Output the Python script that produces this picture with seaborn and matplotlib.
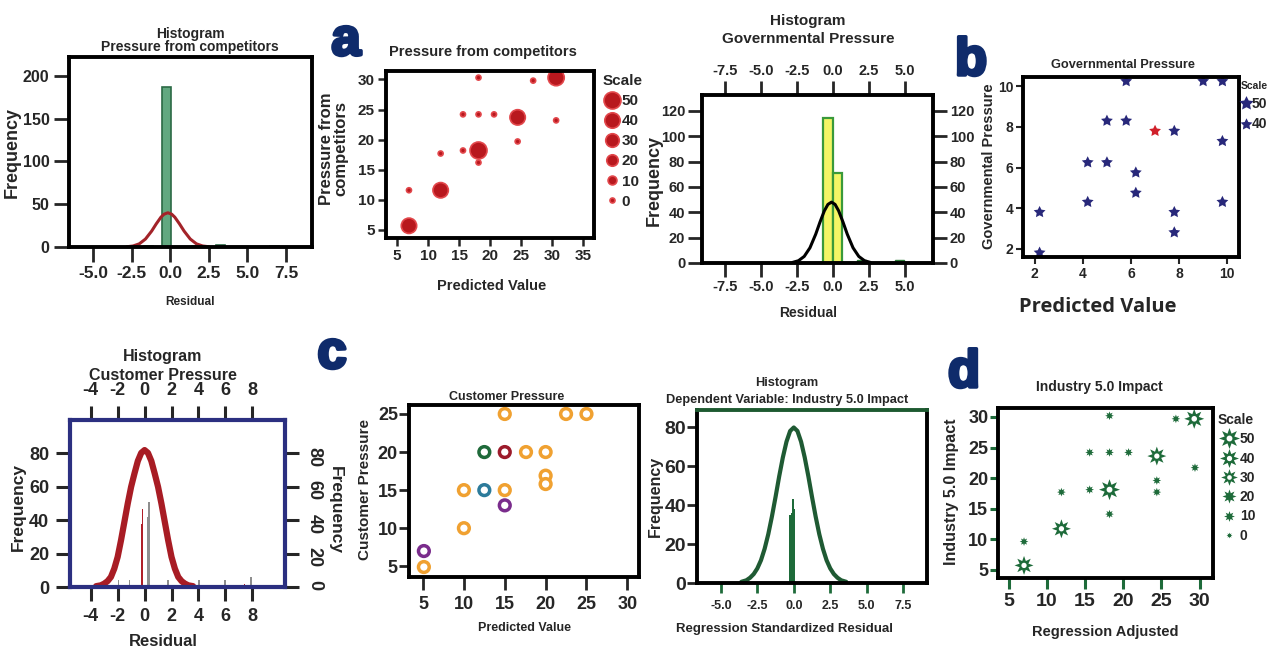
import numpy as np
import matplotlib
matplotlib.use("Agg")
import matplotlib.pyplot as plt
import matplotlib.patheffects as pe
import seaborn as sns
from matplotlib.lines import Line2D
from matplotlib.path import Path

# ---------------------------------------------------------------- data
# a) Histogram - Pressure from competitors (bar centres / counts, normal curve)
comp_bins = [-1.4, -0.24, 1.7, 3.25, 6.75]
comp_counts = [1, 187, 1, 2, 1]
comp_curve_x = [-2.8, -2.4, -2.0, -1.6, -1.2, -0.9, -0.6, -0.4, -0.15, 0.1, 0.3, 0.6, 0.9, 1.3, 1.7, 2.1, 2.5]
comp_curve_y = [0.3, 1.2, 3.7, 9.3, 18.6, 27.1, 34.8, 38.3, 40, 38.3, 34.8, 27.1, 18.6, 9.3, 3.7, 1.2, 0.3]

# a) Pressure from competitors vs predicted value
comp_x = [6.9, 6.9, 12.0, 12.0, 15.6, 18.1, 18.1, 15.6, 18.1, 20.6, 24.4, 24.4, 18.1, 26.9, 30.6, 30.6]
comp_y = [5.7, 11.6, 11.6, 17.7, 18.2, 18.2, 16.2, 24.2, 24.2, 24.2, 23.7, 19.7, 30.3, 29.8, 30.3, 23.2]
comp_scale = [40, 0, 40, 0, 0, 50, 0, 0, 0, 0, 40, 0, 0, 0, 45, 0]

# b) Histogram - Governmental Pressure
gov_bins_main = [-0.345, 0.305]
gov_counts_main = [114, 71]
gov_bins_small = [-1.0, 0.955, 2.0, 4.65]
gov_counts_small = [1, 1, 2, 2]
gov_curve_x = [-2.8, -2.4, -2.0, -1.6, -1.2, -0.9, -0.6, -0.35, -0.1, 0.15, 0.4, 0.7, 1.0, 1.4, 1.8, 2.2, 2.6]
gov_curve_y = [0.5, 1.8, 5.2, 12, 22.7, 32.3, 41.1, 46.2, 48, 46.2, 41.1, 32.3, 22.7, 12, 5.2, 1.8, 0.5]

# b) Governmental Pressure vs predicted value
gov_x = [2.2, 2.2, 4.2, 4.2, 5.0, 5.0, 5.8, 5.8, 6.2, 6.2, 7.0, 7.8, 7.8, 7.8, 9.0, 9.8, 9.8, 9.8]
gov_y = [3.8, 1.8, 4.3, 6.25, 6.25, 8.3, 8.3, 10.25, 5.75, 4.75, 7.8, 7.8, 3.8, 2.8, 10.25, 10.25, 7.3, 4.3]
gov_group = ["base"] * 10 + ["highlight"] + ["base"] * 7
gov_scale = [40] * 18
gov_legend_levels = [50, 40]

# c) Histogram - Customer Pressure
cust_gray_bins = [-1.95, -1.13, 0.22, 0.35, 1.76, 4.06, 5.97, 7.9]
cust_gray_counts = [4, 4, 42, 51, 4, 4, 4, 6]
cust_red_bins = [-0.26, -0.17, 7.4]
cust_red_counts = [38, 47, 2]
cust_curve_x = [-3.6, -3.25, -3.0, -2.75, -2.5, -2.25, -2.0, -1.75, -1.5, -1.25, -1.0, -0.75, -0.5, -0.25, 0,
                0.25, 0.5, 0.75, 1.0, 1.25, 1.5, 1.75, 2.0, 2.25, 2.5, 2.75, 3.0, 3.25, 3.6]
cust_curve_y = [0.5, 1, 2, 3.5, 6, 11, 18, 28, 39, 50, 60, 68, 75.5, 80.3, 82,
                80.3, 75.5, 68, 60, 50, 39, 28, 18, 11, 6, 3.5, 2, 1, 0.5]

# c) Customer Pressure vs predicted value
cust_x = [5.1, 5.1, 10, 10, 12.5, 12.5, 15, 15, 15, 15, 17.6, 20, 20, 20, 22.5, 25]
cust_y = [7.0, 4.9, 15, 10, 15, 20, 20, 25, 15, 13, 20, 20, 16.9, 15.8, 25, 25]
cust_group = ["purple", "orange", "orange", "orange", "teal", "green", "red", "orange",
              "orange", "purple", "orange", "orange", "orange", "orange", "orange", "orange"]

# d) Histogram - Dependent Variable: Industry 5.0 Impact
ind_bins = [-0.25, -0.15, -0.05, 0.05]
ind_counts = [35, 36, 43, 38]
ind_curve_x = [-3.6, -3.25, -3.0, -2.75, -2.5, -2.25, -2.0, -1.75, -1.5, -1.25, -1.0, -0.75, -0.5, -0.25, 0,
               0.25, 0.5, 0.75, 1.0, 1.25, 1.5, 1.75, 2.0, 2.25, 2.5, 2.75, 3.0, 3.25, 3.6]
ind_curve_y = [0.6, 1.4, 2.7, 4.6, 7.5, 11.7, 17.6, 25.1, 34.2, 44.3, 54.9, 64.6, 72.7, 78.2, 80,
               78.2, 72.7, 64.6, 54.9, 44.3, 34.2, 25.1, 17.6, 11.7, 7.5, 4.6, 2.7, 1.4, 0.6]

# d) Industry 5.0 Impact vs regression adjusted
ind_x = [7.0, 7.0, 11.9, 11.9, 15.6, 18.2, 18.2, 15.6, 18.2, 20.7, 24.4, 24.4, 24.4, 18.2, 26.9, 29.3, 29.4]
ind_y = [5.7, 9.6, 11.7, 17.7, 18.1, 18.1, 14.1, 24.2, 24.2, 24.2, 23.6, 19.6, 17.7, 30.2, 29.7, 29.7, 21.7]
ind_scale = [40, 5, 40, 5, 5, 50, 5, 5, 5, 5, 40, 5, 5, 5, 5, 45, 5]

scale_levels = [50, 40, 30, 20, 10, 0]

# tick values
ticks_resid_a = [-5.0, -2.5, 0.0, 2.5, 5.0, 7.5]
ticks_resid_b = [-7.5, -5.0, -2.5, 0.0, 2.5, 5.0]
ticks_resid_c = [-4, -2, 0, 2, 4, 6, 8]
ticks_5_35 = [5, 10, 15, 20, 25, 30, 35]
ticks_5_30 = [5, 10, 15, 20, 25, 30]
ticks_5_25 = [5, 10, 15, 20, 25]
ticks_2_10 = [2, 4, 6, 8, 10]

# ---------------------------------------------------------------- style
W, H = 1282, 653
sns.set_style("ticks")
SANS = "Liberation Sans"
plt.rcParams["font.family"] = [SANS, "DejaVu Sans"]

RED = "#b8181e"
RED_EDGE = "#e2474b"
NAVY = "#28287a"
GREEN = "#1e6b3a"
LETTER = "#0f2b6b"
CUST_COLORS = {"orange": "#f0a131", "purple": "#7a2c8c", "teal": "#2c7b9b",
               "green": "#1f6a3a", "red": "#9c1b2b"}
COMP_SIZES = (13, 150)
IND_SIZES = (18, 228)
GOV_SIZES = {40: 80, 50: 115}

_ang = np.linspace(0, 2 * np.pi, 25)[::-1]
_star = Path.unit_regular_star(8, 0.5)
HOLLOW_STAR = Path(
    np.vstack([_star.vertices, np.column_stack([0.28 * np.cos(_ang), 0.28 * np.sin(_ang)])]),
    np.concatenate([_star.codes, [Path.MOVETO] + [Path.LINETO] * 23 + [Path.CLOSEPOLY]]))
SOLID_STAR = (8, 1, 0)


def _ax(fig, left, top, right, bottom):
    return fig.add_axes([left / W, 1 - bottom / H, (right - left) / W, (bottom - top) / H])


def _fxy(x, y):
    return x / W, 1 - y / H


def _text(fig, x, y, s, **kw):
    fig.text(*_fxy(x, y), s, **kw)


def _frame(ax, color="black", lw=2.8):
    for sp in ax.spines.values():
        sp.set_visible(True)
        sp.set_color(color)
        sp.set_linewidth(lw)


def _bar_edges(centers, width):
    """Bin edges for equal-width bars centred on `centers`; gaps become empty bins."""
    edges = []
    for c in sorted(centers):
        lo, hi = round(c - width / 2, 6), round(c + width / 2, 6)
        if edges and lo <= edges[-1] + 1e-6:
            edges.append(hi)
        else:
            edges.extend([lo, hi])
    return edges


def _set_ticks(ax, axis, values, size, fmt="{:g}", weight="bold"):
    labels = [fmt.format(v) for v in values]
    if axis == "x":
        ax.set_xticks(values)
        ax.set_xticklabels(labels, fontsize=size, fontweight=weight)
    else:
        ax.set_yticks(values)
        ax.set_yticklabels(labels, fontsize=size, fontweight=weight)


def _labels(ax, xlabel, xpos, xkw, ylabel, ypos, ykw):
    """xpos = (centre, top) and ypos = (right edge, centre) in figure pixels."""
    ax.set_xlabel(xlabel, **xkw)
    ax.set_ylabel(ylabel, **ykw)
    inv = ax.transAxes.inverted()
    ax.xaxis.set_label_coords(*inv.transform((xpos[0], H - xpos[1])))
    ax.yaxis.set_label_coords(*inv.transform((ypos[0], H - ypos[1])))


def _title(fig, cx, lines, size):
    for text, baseline in lines:
        _text(fig, cx, baseline, text, ha="center", va="baseline", fontsize=size, fontweight="bold")


def _area(v, sizes):
    return sizes[0] + v / 50 * (sizes[1] - sizes[0])


def _legend(ax, fig, handles, labels, anchor, size, title_size, hl, pad, spacing):
    ax.legend(handles, labels, title="Scale", loc="upper left",
              bbox_to_anchor=_fxy(*anchor), bbox_transform=fig.transFigure,
              frameon=False, borderpad=0, borderaxespad=0, handlelength=hl,
              handletextpad=pad, labelspacing=spacing, alignment="left",
              prop=dict(family=SANS, weight="bold", size=size),
              title_fontproperties=dict(family=SANS, weight="bold", size=title_size))


# ---------------------------------------------------------------- panels
def plot_comp_hist(fig):
    ax = _ax(fig, 69, 57, 312, 247)
    sns.histplot(x=comp_bins, weights=comp_counts, bins=_bar_edges(comp_bins, 0.58),
                 color="#62a880", edgecolor="#2b6a45", linewidth=1.2, alpha=1, ax=ax)
    sns.lineplot(x=comp_curve_x, y=comp_curve_y, color="#a32329", lw=2.2, ax=ax)
    ax.set_xlim(-6.55, 9.18)
    ax.set_ylim(0, 222)
    _frame(ax)
    ax.tick_params(length=11, width=2, pad=3)
    _set_ticks(ax, "x", ticks_resid_a, 12.5, "{:.1f}")
    _set_ticks(ax, "y", [0, 50, 100, 150, 200], 11.5)
    _labels(ax, "Residual", (190, 296), dict(fontsize=8.5, fontweight="bold"),
            "Frequency", (21, 152), dict(fontsize=13, fontweight="bold"))
    _title(fig, 190, [("Histogram", 38), ("Pressure from competitors", 51.5)], 10)


def plot_comp_scatter(fig):
    ax = _ax(fig, 386, 71, 594, 238)
    sns.scatterplot(x=comp_x, y=comp_y, size=comp_scale, sizes=COMP_SIZES, size_norm=(0, 50),
                    color=RED, edgecolor=RED_EDGE, linewidth=1.2, legend=False, ax=ax)
    ax.set_xlim(3.2, 36.7)
    ax.set_ylim(3.67, 31.4)
    _frame(ax)
    ax.tick_params(length=6, width=1.8, pad=2)
    _set_ticks(ax, "x", ticks_5_35, 11)
    _set_ticks(ax, "y", ticks_5_30, 11)
    _labels(ax, "Predicted Value", (492, 279), dict(fontsize=10.5, fontweight="bold"),
            "Pressure from\ncompetitors", (348, 149),
            dict(fontsize=12, fontweight="bold", linespacing=0.9))
    _title(fig, 483, [("Pressure from competitors", 56)], 10.5)
    handles = [Line2D([], [], ls="none", marker="o", ms=np.sqrt(_area(v, COMP_SIZES)),
                      mfc=RED, mec=RED_EDGE, mew=1.2) for v in scale_levels]
    _legend(ax, fig, handles, [str(v) for v in scale_levels], (603, 74), 11, 11, 1.18, 0.05, 0.4)


def plot_gov_hist(fig):
    ax = _ax(fig, 702, 95, 933, 263)
    sns.histplot(x=gov_bins_main, weights=gov_counts_main, bins=_bar_edges(gov_bins_main, 0.65),
                 color="#f4f565", edgecolor="#3a9a3a", linewidth=1.6, alpha=1, ax=ax)
    sns.histplot(x=gov_bins_small, weights=gov_counts_small, bins=_bar_edges(gov_bins_small, 0.65),
                 color="#3a9a4a", edgecolor="#2f7f3a", linewidth=1, alpha=1, ax=ax)
    sns.lineplot(x=gov_curve_x, y=gov_curve_y, color="black", lw=2.2, ax=ax)
    ax.set_xlim(-9.12, 6.97)
    ax.set_ylim(0, 132.5)
    _frame(ax)
    ax.tick_params(length=10, width=2, pad=2, top=True, labeltop=True, right=True, labelright=True)
    _set_ticks(ax, "x", ticks_resid_b, 10.5, "{:.1f}")
    _set_ticks(ax, "y", [0, 20, 40, 60, 80, 100, 120], 10.5)
    _labels(ax, "Residual", (808, 306), dict(fontsize=10, fontweight="bold"),
            "Frequency", (663, 180), dict(fontsize=13, fontweight="bold"))
    _title(fig, 808, [("Histogram", 25), ("Governmental Pressure", 43)], 11)


def plot_gov_scatter(fig):
    ax = _ax(fig, 1023, 77, 1239, 257)
    sns.scatterplot(x=gov_x, y=gov_y, hue=gov_group, palette={"base": NAVY, "highlight": "#d0202a"},
                    size=gov_scale, sizes=GOV_SIZES, marker=(5, 1, 0), linewidth=0,
                    legend=False, ax=ax)
    ax.set_xlim(1.51, 10.49)
    ax.set_ylim(1.59, 10.46)
    _frame(ax)
    ax.tick_params(length=5, width=1.5, pad=2)
    _set_ticks(ax, "x", ticks_2_10, 10)
    _set_ticks(ax, "y", ticks_2_10, 10)
    _labels(ax, "Predicted Value", (1098, 297), dict(fontsize=14.5, family="Open Sans", fontweight="bold"),
            "Governmental Pressure", (996, 166), dict(fontsize=10.5, fontweight="bold"))
    _title(fig, 1123, [("Governmental Pressure", 68)], 9.2)
    handles = [Line2D([], [], ls="none", marker=(5, 1, 0), ms=np.sqrt(GOV_SIZES[v]),
                      mfc=NAVY, mec=NAVY, mew=0) for v in gov_legend_levels]
    _legend(ax, fig, handles, [str(v) for v in gov_legend_levels], (1241, 81), 10, 7.5, 0.76, 0.0, 0.45)


def plot_cust_hist(fig):
    ax = _ax(fig, 70, 420, 285, 587)
    sns.histplot(x=cust_gray_bins, weights=cust_gray_counts, bins=_bar_edges(cust_gray_bins, 0.12),
                 color="#8e8e8e", linewidth=0, alpha=1, ax=ax)
    sns.histplot(x=cust_red_bins, weights=cust_red_counts, bins=_bar_edges(cust_red_bins, 0.08),
                 color="#b01f28", linewidth=0, alpha=1, ax=ax)
    sns.lineplot(x=cust_curve_x, y=cust_curve_y, color="#a81c24", lw=4.5, ax=ax)
    ax.set_xlim(-5.54, 10.43)
    ax.set_ylim(0, 100)
    _frame(ax, color="#2b2f80", lw=3)
    ax.tick_params(length=10, width=2.2, pad=5, top=True, labeltop=True, right=True, labelright=True)
    _set_ticks(ax, "x", ticks_resid_c, 13)
    _set_ticks(ax, "y", [0, 20, 40, 60, 80], 13)
    for t in ax.yaxis.get_major_ticks():
        t.label2.set_rotation(-90)
    _labels(ax, "Residual", (163, 634), dict(fontsize=12, fontweight="bold"),
            "Frequency", (26, 507), dict(fontsize=12.5, fontweight="bold"))
    _text(fig, 335, 510, "Frequency", rotation=-90, ha="center", va="center",
          fontsize=12.5, fontweight="bold")
    _title(fig, 163, [("Histogram", 361), ("Customer Pressure", 380)], 11.5)


def plot_cust_scatter(fig):
    ax = _ax(fig, 409, 405, 639, 577)
    sns.scatterplot(x=cust_x, y=cust_y, hue=cust_group, palette=CUST_COLORS, s=60,
                    marker="o", linewidth=2.5, legend=False, ax=ax)
    pts = ax.collections[-1]
    pts.set_edgecolors(pts.get_facecolors())
    pts.set_facecolors("white")
    ax.set_xlim(3.28, 31.43)
    ax.set_ylim(3.59, 26.18)
    _frame(ax)
    ax.tick_params(axis="x", length=9, width=2, pad=5)
    ax.tick_params(axis="y", length=7, width=2, pad=1)
    _set_ticks(ax, "x", ticks_5_30, 13)
    _set_ticks(ax, "y", ticks_5_25, 13)
    _labels(ax, "Predicted Value", (524, 622), dict(fontsize=9, fontweight="bold"),
            "Customer Pressure", (372, 490), dict(fontsize=11, fontweight="bold"))
    _title(fig, 507, [("Customer Pressure", 400)], 9)


def plot_ind_hist(fig):
    ax = _ax(fig, 697, 410, 927, 583)
    sns.histplot(x=ind_bins, weights=ind_counts, bins=_bar_edges(ind_bins, 0.1),
                 color=GREEN, linewidth=0, alpha=1, ax=ax)
    sns.lineplot(x=ind_curve_x, y=ind_curve_y, color="#1f5a33", lw=3, ax=ax)
    ax.set_xlim(-6.64, 9.14)
    ax.set_ylim(0, 89)
    _frame(ax)
    ax.spines["top"].set_color("#1d5a30")
    ax.tick_params(axis="x", length=7, width=2, pad=5, color=GREEN)
    ax.tick_params(axis="y", length=7, width=2, pad=1)
    _set_ticks(ax, "x", ticks_resid_a, 9, "{:.1f}")
    _set_ticks(ax, "y", [0, 20, 40, 60, 80], 14)
    _labels(ax, "Regression Standardized Residual", (785, 623), dict(fontsize=9.5, fontweight="bold"),
            "Frequency", (663, 496), dict(fontsize=11.5, fontweight="bold"))
    _title(fig, 787, [("Histogram", 386), ("Dependent Variable: Industry 5.0 Impact", 403)], 9.2)


def plot_ind_scatter(fig):
    ax = _ax(fig, 998, 408, 1213, 578)
    big = [s >= 30 for s in ind_scale]
    for keep, marker in ((big, HOLLOW_STAR), ([not b for b in big], SOLID_STAR)):
        sns.scatterplot(x=[v for v, k in zip(ind_x, keep) if k], y=[v for v, k in zip(ind_y, keep) if k],
                        size=[v for v, k in zip(ind_scale, keep) if k], sizes=IND_SIZES,
                        size_norm=(0, 50), color=GREEN, marker=marker, linewidth=0,
                        legend=False, ax=ax)
    ax.set_xlim(3.59, 31.76)
    ax.set_ylim(3.64, 31.47)
    _frame(ax)
    ax.tick_params(axis="x", length=8, width=2.2, pad=3, color=GREEN)
    ax.tick_params(axis="y", length=6, width=2.2, pad=1, color=GREEN)
    _set_ticks(ax, "x", ticks_5_30, 14)
    _set_ticks(ax, "y", ticks_5_30, 13)
    _labels(ax, "Regression Adjusted", (1105, 625), dict(fontsize=10.5, fontweight="bold"),
            "Industry 5.0 Impact", (959, 492), dict(fontsize=11.5, fontweight="bold"))
    _title(fig, 1099, [("Industry 5.0 Impact", 391)], 10)
    handles = [Line2D([], [], ls="none", marker=HOLLOW_STAR if v >= 30 else SOLID_STAR,
                      ms=np.sqrt(_area(v, IND_SIZES)), mfc=GREEN, mec=GREEN, mew=0)
               for v in scale_levels]
    _legend(ax, fig, handles, [str(v) for v in scale_levels], (1218, 413), 10, 10, 1.58, 0.0, 0.38)


# ---------------------------------------------------------------- figure
fig = plt.figure(figsize=(W / 100, H / 100), dpi=100)
plot_comp_hist(fig)
plot_comp_scatter(fig)
plot_gov_hist(fig)
plot_gov_scatter(fig)
plot_cust_hist(fig)
plot_cust_scatter(fig)
plot_ind_hist(fig)
plot_ind_scatter(fig)

for letter, x, y in (("a", 346, 55), ("b", 971, 75), ("c", 332, 368), ("d", 964, 387)):
    _text(fig, x, y, letter, ha="center", va="baseline", fontsize=38, fontweight="bold",
          color=LETTER, path_effects=[pe.withStroke(linewidth=2.5, foreground=LETTER)])

fig.savefig("out.png", dpi=100)
